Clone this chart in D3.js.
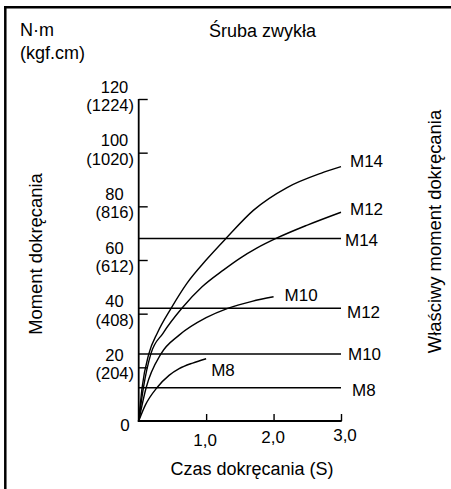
<!DOCTYPE html>
<html>
<head>
<meta charset="utf-8">
<script src="https://cdn.jsdelivr.net/npm/d3@7"></script>
<style>
  html, body { margin: 0; padding: 0; background: #fff; }
  svg { display: block; }
  text { font-family: "Liberation Sans", Arial, sans-serif; fill: #000; }
</style>
</head>
<body>
<svg id="chart" width="451" height="489"></svg>
<script>
// ---------- data ----------
const title = "Śruba zwykła";
const unitLine1 = "N·m";
const unitLine2 = "(kgf.cm)";
const xTitle = "Czas dokręcania (S)";
const yTitleLeft = "Moment dokręcania";
const yTitleRight = "Właściwy moment dokręcania";

const xTicks = [1, 2, 3];
const xTickLabels = ["1,0", "2,0", "3,0"];
const yTicks = [0, 20, 40, 60, 80, 100, 120];
const yTickNm = ["0", "20", "40", "60", "80", "100", "120"];
const yTickKgf = ["", "(204)", "(408)", "(612)", "(816)", "(1020)", "(1224)"];

// tightening curves: [time (s), torque (N·m)]
const curveM14 = [[0,0],[0.05,12.4],[0.15,25],[0.28,33],[0.48,42],[0.72,51.5],[1.0,60],[1.3,68.2],[1.7,78.5],[2.2,87],[2.7,92.3],[3.0,94.8]];
const curveM12 = [[0,0],[0.07,12.4],[0.18,25],[0.36,32.7],[0.64,42],[0.94,50],[1.26,56.3],[1.5,60.6],[1.75,64.4],[2.06,68.3],[2.5,73],[3.0,77.8]];
const curveM10 = [[0,0],[0.11,12.4],[0.33,25],[0.6,32],[1.0,38.5],[1.32,42],[1.68,44.6],[2.0,46.3]];
const curveM8  = [[0,0],[0.1,6],[0.27,12.4],[0.45,17],[0.6,19.5],[0.8,21.6],[1.0,23.2]];
const curveNames = ["M14", "M12", "M10", "M8"];

// proper tightening torque (horizontal lines)
const properNames = ["M14", "M12", "M10", "M8"];
const properTorque = [68, 42, 25, 12.4];
const properTimeRange = [0, 3];

// ---------- layout / style ----------
const svg = d3.select("#chart");
const x = d3.scaleLinear().domain([0, 3]).range([138.7, 341]);
const y = d3.scaleLinear().domain([0, 120]).range([421, 99]);

const FS = 17;
const TFS = 16.5;
// label offsets (dx, dy of text center) relative to the line end
const curveLabelOff = [[9, -6], [9, -3], [11, -2], [5, 11]];
const properLabelOff = [[4, 2], [6, 4], [7, 0], [11, 2]];
const xLabelOff = [[-1, 25], [-0.5, 22], [4, 20]];

// frame (left + top)
svg.append("line").attr("x1", 5.3).attr("x2", 5.3).attr("y1", 6).attr("y2", 489)
  .attr("stroke", "#000").attr("stroke-width", 2.5);
svg.append("line").attr("x1", 4).attr("x2", 451).attr("y1", 7.2).attr("y2", 7.2)
  .attr("stroke", "#000").attr("stroke-width", 2.5);

// title and units
svg.append("text").attr("x", 262.5).attr("y", 37).attr("text-anchor", "middle")
  .style("font-size", "18px").text(title);
svg.append("text").attr("x", 20).attr("y", 36).style("font-size", "18px").text(unitLine1);
svg.append("text").attr("x", 20).attr("y", 58.5).style("font-size", "18px").text(unitLine2);

// axes
const yAxis = d3.axisRight(y).tickValues(yTicks.filter(d => d > 0)).tickSize(9).tickFormat("");
svg.append("g").attr("transform", `translate(${x(0)},0)`).call(yAxis)
  .call(g => g.select(".domain").remove())
  .call(g => g.selectAll("line").attr("stroke", "#000").attr("stroke-width", 1.4));
svg.append("line").attr("x1", x(0)).attr("x2", x(0)).attr("y1", y(120)).attr("y2", y(0) + 0.8)
  .attr("stroke", "#000").attr("stroke-width", 1.8);

const xAxis = d3.axisTop(x).tickValues(xTicks).tickSize(7).tickFormat("");
svg.append("g").attr("transform", `translate(0,${y(0)})`).call(xAxis)
  .call(g => g.select(".domain").remove())
  .call(g => g.selectAll("line").attr("stroke", "#000").attr("stroke-width", 1.4));
svg.append("line").attr("x1", x(0) - 0.9).attr("x2", x(3) + 0.7).attr("y1", y(0)).attr("y2", y(0))
  .attr("stroke", "#000").attr("stroke-width", 1.8);

// y tick labels (two lines)
yTicks.forEach((v, i) => {
  if (v === 0) {
    svg.append("text").attr("x", 125).attr("y", y(0) + 10).attr("text-anchor", "middle")
      .style("font-size", FS + "px").text(yTickNm[i]);
    return;
  }
  svg.append("text").attr("x", 114.5).attr("y", y(v) - 6.5).attr("text-anchor", "middle")
    .style("font-size", TFS + "px").text(yTickNm[i]);
  svg.append("text").attr("x", 134).attr("y", y(v) + 12).attr("text-anchor", "end")
    .style("font-size", TFS + "px").text(yTickKgf[i]);
});

// x tick labels
xTicks.forEach((v, i) => {
  svg.append("text").attr("x", x(v) + xLabelOff[i][0]).attr("y", y(0) + xLabelOff[i][1])
    .attr("text-anchor", "middle").style("font-size", FS + "px").text(xTickLabels[i]);
});

// axis titles
svg.append("text").attr("x", 252).attr("y", 475).attr("text-anchor", "middle")
  .style("font-size", "18px").text(xTitle);
svg.append("text").attr("transform", "translate(42,254) rotate(-90)").attr("text-anchor", "middle")
  .style("font-size", "18.4px").text(yTitleLeft);
svg.append("text").attr("transform", "translate(441,231.5) rotate(-90)").attr("text-anchor", "middle")
  .style("font-size", "18.4px").text(yTitleRight);

// proper torque lines
properTorque.forEach((v, i) => {
  svg.append("line").attr("x1", x(properTimeRange[0])).attr("x2", x(properTimeRange[1]))
    .attr("y1", y(v)).attr("y2", y(v)).attr("stroke", "#000").attr("stroke-width", 1.5);
  svg.append("text").attr("x", x(properTimeRange[1]) + properLabelOff[i][0])
    .attr("y", y(v) + properLabelOff[i][1]).attr("dy", "0.35em")
    .style("font-size", FS + "px").text(properNames[i]);
});

// tightening curves
const line = d3.line().x(d => x(d[0])).y(d => y(d[1])).curve(d3.curveMonotoneX);
[curveM14, curveM12, curveM10, curveM8].forEach((c, i) => {
  svg.append("path").attr("d", line(c)).attr("fill", "none")
    .attr("stroke", "#000").attr("stroke-width", 1.4);
  const end = c[c.length - 1];
  svg.append("text").attr("x", x(end[0]) + curveLabelOff[i][0])
    .attr("y", y(end[1]) + curveLabelOff[i][1]).attr("dy", "0.35em")
    .style("font-size", FS + "px").text(curveNames[i]);
});
</script>
</body>
</html>
